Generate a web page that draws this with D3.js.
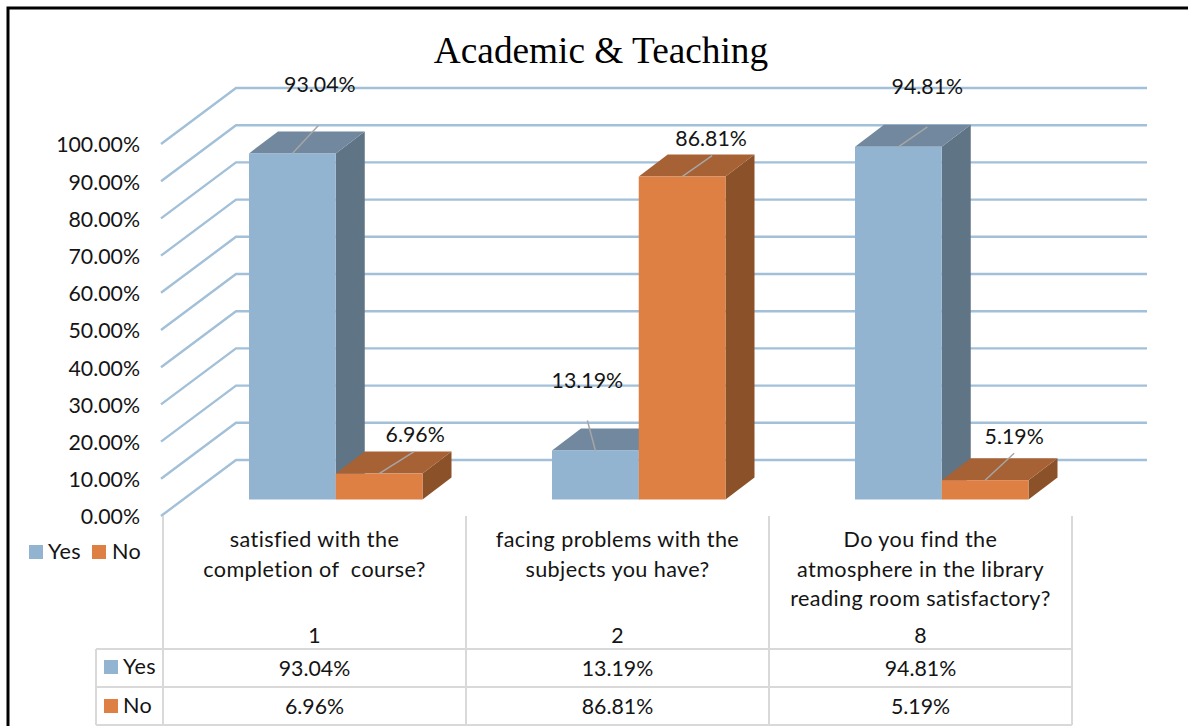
<!DOCTYPE html>
<html><head><meta charset="utf-8">
<style>html,body{margin:0;padding:0;background:#fff}svg{display:block}text{font-variant-ligatures:none;white-space:pre}</style>
<script src="https://cdn.jsdelivr.net/npm/d3@7"></script></head>
<body><div id="c"></div>
<script>
const title = "Academic & Teaching";
const categories = ["1","2","8"];
const categoryText = [
  ["satisfied with the","completion of  course?"],
  ["facing problems with the","subjects you have?"],
  ["Do you find the","atmosphere in the library","reading room satisfactory?"]
];
const seriesNames = ["Yes","No"];
const yesValues = [93.04,13.19,94.81];
const noValues = [6.96,86.81,5.19];
const yTicks = [0,10,20,30,40,50,60,70,80,90,100];
const seriesColors = {
  Yes:{front:"#93b4d1",side:"#5f7485",top:"#72889e"},
  No:{front:"#de8044",side:"#8b5129",top:"#a66235"}
};
const W=1188,H=726,F="Lato, 'Open Sans', sans-serif",TXT="#141414";
const GRID="#a3c0d9",TBL="#d9d9d9";
// layout: leader end and label centre, relative to the bar's top-front centre
const labelLayout = {
  Yes:[{lx:26,ly:-28,tx:27.5,ty:-69.5},{lx:-8,ly:-30,tx:-8,ty:-70},{lx:29,ly:-20,tx:29,ty:-60.5}],
  No:[{lx:35,ly:-22,tx:36,ty:-39.5},{lx:30,ly:-21,tx:29,ty:-38.5},{lx:29,ly:-27,tx:29,ty:-44.5}]
};
const svg=d3.select("#c").append("svg").attr("width",W).attr("height",H);
const pct=v=>d3.format(".2f")(v)+"%";

// frame
svg.append("path").attr("d",`M8,${H}V8H${W}`).attr("fill","none").attr("stroke","#000").attr("stroke-width",3);

// title
svg.append("text").text(title).attr("x",601).attr("y",63).attr("text-anchor","middle")
  .attr("font-family","'Liberation Serif',serif").attr("font-size",37.3).attr("fill","#000");

// scales
const yScale=d3.scaleLinear().domain([0,100]).range([516,144]);   // front wall edge
const xBand=d3.scaleBand().domain(categories).range([163,1072]);
const xSeries=d3.scaleBand().domain(seriesNames).range([86,259.5]); // within a band
const depth={x:75,y:-56};          // floor depth vector
const barFront={x:0,y:-16.5};      // bar front plane vs front axis
const barDepth={x:29,y:-22};

// gridlines
svg.append("g").selectAll("path").data(yTicks).join("path")
  .attr("d",d=>{const y=yScale(d);return `M161,${y}L${161+depth.x},${y+depth.y}H1147`;})
  .attr("fill","none").attr("stroke",GRID).attr("stroke-width",2.4);

// y axis labels
const axis=d3.axisLeft(yScale).tickValues(yTicks).tickSize(0).tickPadding(0).tickFormat(pct);
const ax=svg.append("g").attr("transform","translate(140,1)").call(axis);
ax.select(".domain").remove();
ax.selectAll("text").attr("font-family",F).attr("font-size",21.3).attr("fill",TXT);

// bars
const bars=svg.append("g");
const rows=[["Yes",yesValues],["No",noValues]];
const leaders=[],labels=[];
categories.forEach((c,i)=>{
  rows.forEach(([s,vals])=>{
    const v=vals[i],col=seriesColors[s];
    const x0=xBand(c)+xSeries(s),x1=x0+xSeries.bandwidth();
    const yB=yScale(0)+barFront.y,yT=yScale(v)+barFront.y;
    const dx=barDepth.x,dy=barDepth.y;
    bars.append("path").attr("fill",col.side).attr("d",`M${x1},${yB}L${x1+dx},${yB+dy}V${yT+dy}L${x1},${yT}Z`);
    bars.append("path").attr("fill",col.top).attr("d",`M${x0},${yT}L${x0+dx},${yT+dy}H${x1+dx}L${x1},${yT}Z`);
    bars.append("rect").attr("x",x0).attr("y",yT).attr("width",x1-x0).attr("height",yB-yT).attr("fill",col.front);
    const m=labelLayout[s][i],cx=(x0+x1)/2;
    leaders.push({x1:cx,y1:yT,x2:cx+m.lx,y2:yT+m.ly});
    labels.push({x:cx+m.tx,y:yT+m.ty,t:pct(v)});
  });
});
svg.append("g").selectAll("line").data(leaders).join("line")
  .attr("x1",d=>d.x1).attr("y1",d=>d.y1).attr("x2",d=>d.x2).attr("y2",d=>d.y2)
  .attr("stroke","#a6a6a6").attr("stroke-width",1.5);
const num=(sel)=>sel.attr("font-family",F).attr("font-size",21.3).attr("fill",TXT);
const tx=(sel)=>sel.attr("font-family",F).attr("font-size",21.6).attr("letter-spacing",0.4).attr("fill",TXT);
svg.append("g").selectAll("text").data(labels).join("text")
  .attr("x",d=>d.x).attr("y",d=>d.y).attr("text-anchor","middle").attr("dominant-baseline","central")
  .text(d=>d.t).call(num);

// legend
const legend=[{s:"Yes",sx:29,tx:48},{s:"No",sx:92,tx:112}];
legend.forEach(l=>{
  svg.append("rect").attr("x",l.sx).attr("y",545).attr("width",14).attr("height",14).attr("fill",seriesColors[l.s].front);
  svg.append("text").attr("x",l.tx).attr("y",559).text(l.s).call(tx);
});

// data table
const tbl=svg.append("g").attr("stroke",TBL).attr("stroke-width",2);
xBand.domain().concat("end").forEach((c,i)=>{
  const x=c==="end"?xBand.range()[1]:xBand(c);
  tbl.append("line").attr("x1",x).attr("x2",x).attr("y1",516).attr("y2",725);
});
[649,687,725].forEach(y=>tbl.append("line").attr("x1",96).attr("x2",1072).attr("y1",y).attr("y2",y));
tbl.append("line").attr("x1",96).attr("x2",96).attr("y1",649).attr("y2",725);

categories.forEach((c,i)=>{
  const cx=xBand(c)+xBand.bandwidth()/2;
  categoryText[i].forEach((t,k)=>{
    svg.append("text").attr("x",cx).attr("y",547+k*29.5).attr("text-anchor","middle").text(t).call(tx);
  });
  svg.append("text").attr("x",cx).attr("y",642.5).attr("text-anchor","middle").text(c).call(num);
  rows.forEach(([s,vals],r)=>{
    svg.append("text").attr("x",cx).attr("y",675.5+r*38.5).attr("text-anchor","middle").text(pct(vals[i])).call(num);
  });
});
rows.forEach(([s],r)=>{
  const y=660+r*39;
  svg.append("rect").attr("x",104).attr("y",y).attr("width",14).attr("height",14).attr("fill",seriesColors[s].front);
  svg.append("text").attr("x",123).attr("y",y+14).text(s).call(tx);
});
</script></body></html>
